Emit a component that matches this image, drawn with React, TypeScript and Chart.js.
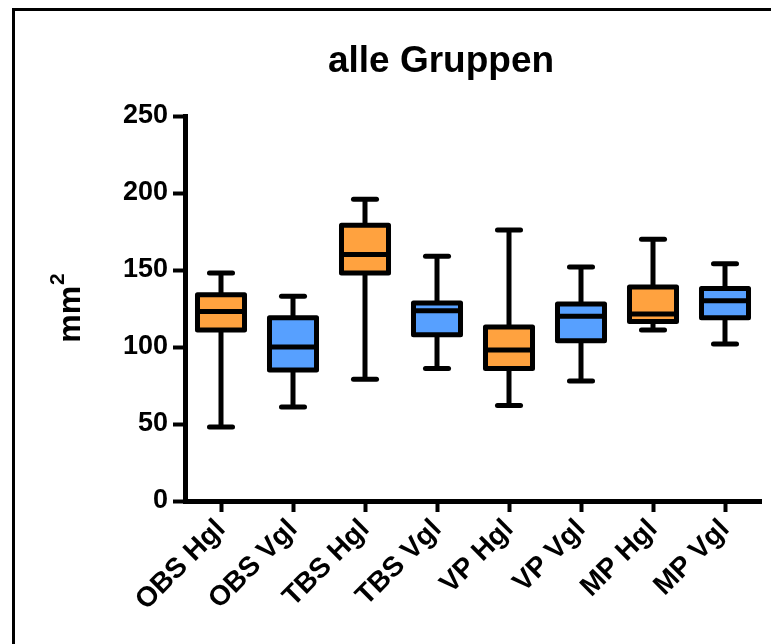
import React, { useEffect, useRef } from "react";
import { Chart, registerables } from "chart.js";

Chart.register(...registerables);

// ---- data ----
const categories = ["OBS Hgl", "OBS Vgl", "TBS Hgl", "TBS Vgl", "VP Hgl", "VP Vgl", "MP Hgl", "MP Vgl"];
const minValues = [48, 61, 79, 86, 62, 78, 111, 102];
const q1Values = [111, 85, 148, 108, 86, 104, 116.5, 119];
const medianValues = [123, 100, 160, 123.5, 98, 120, 121.5, 130];
const q3Values = [134, 119, 179, 128.5, 113, 128, 139, 138];
const maxValues = [148, 133, 196, 159, 176, 152, 170, 154];
const boxColors = ["#FFA23F", "#57A0FF", "#FFA23F", "#57A0FF", "#FFA23F", "#57A0FF", "#FFA23F", "#57A0FF"];
const yMin = 0;
const yMax = 250;
const yStep = 50;
const chartTitle = "alle Gruppen";
const yAxisTitleBase = "mm";
const yAxisTitleSup = "2";

const FONT = "'Liberation Sans', Arial, Helvetica, sans-serif";

const boxWhiskerPlugin = {
  id: "boxWhiskerPlugin",
  afterDatasetsDraw(chart: any) {
    const meta = chart.getDatasetMeta(0);
    const ys = chart.scales.y;
    const ctx = chart.ctx as CanvasRenderingContext2D;
    ctx.save();
    ctx.strokeStyle = "#000";
    ctx.lineWidth = 5;
    ctx.lineJoin = "round";
    const line = (x1: number, y1: number, x2: number, y2: number, cap: CanvasLineCap) => {
      ctx.lineCap = cap;
      ctx.beginPath();
      ctx.moveTo(x1, y1);
      ctx.lineTo(x2, y2);
      ctx.stroke();
    };
    meta.data.forEach((bar: any, i: number) => {
      const x = bar.x;
      const half = bar.width / 2;
      const capHalf = bar.width * 0.245;
      const pMin = ys.getPixelForValue(minValues[i]);
      const pQ1 = ys.getPixelForValue(q1Values[i]);
      const pMed = ys.getPixelForValue(medianValues[i]);
      const pQ3 = ys.getPixelForValue(q3Values[i]);
      const pMax = ys.getPixelForValue(maxValues[i]);
      line(x, pQ3, x, pMax, "butt");
      line(x, pQ1, x, pMin, "butt");
      line(x - capHalf, pMax, x + capHalf, pMax, "round");
      line(x - capHalf, pMin, x + capHalf, pMin, "round");
      ctx.beginPath();
      ctx.rect(x - half, pQ3, 2 * half, pQ1 - pQ3);
      ctx.stroke();
      line(x - half, pMed, x + half, pMed, "butt");
    });
    ctx.restore();
  },
};

const textPlugin = {
  id: "textPlugin",
  afterDraw(chart: any) {
    const ctx = chart.ctx as CanvasRenderingContext2D;
    const area = chart.chartArea;
    ctx.save();
    ctx.fillStyle = "#000";
    // chart title
    ctx.font = `bold 37px ${FONT}`;
    ctx.textAlign = "center";
    ctx.textBaseline = "middle";
    ctx.fillText(chartTitle, 441, 62);
    // y-axis title "mm" with superscript 2, rotated
    const cy = (area.top + area.bottom) / 2;
    ctx.translate(80, cy);
    ctx.rotate(-Math.PI / 2);
    ctx.textBaseline = "alphabetic";
    ctx.textAlign = "left";
    ctx.font = `bold 32px ${FONT}`;
    const wBase = ctx.measureText(yAxisTitleBase).width;
    ctx.font = `bold 21px ${FONT}`;
    const wSup = ctx.measureText(yAxisTitleSup).width;
    const start = -(wBase + wSup) / 2;
    ctx.font = `bold 32px ${FONT}`;
    ctx.fillText(yAxisTitleBase, start, 0);
    ctx.font = `bold 21px ${FONT}`;
    ctx.fillText(yAxisTitleSup, start + wBase + 1, -16);
    ctx.restore();
  },
};

export default function App() {
  const canvasRef = useRef<HTMLCanvasElement | null>(null);

  useEffect(() => {
    if (!canvasRef.current) return;
    const chart = new Chart(canvasRef.current, {
      type: "bar",
      data: {
        labels: categories,
        datasets: [
          {
            label: "Box",
            data: categories.map((_, i) => [q1Values[i], q3Values[i]]) as any,
            backgroundColor: boxColors,
            borderWidth: 0,
            barPercentage: 0.653,
            categoryPercentage: 1,
          },
        ],
      },
      options: {
        animation: false,
        responsive: false,
        maintainAspectRatio: false,
        devicePixelRatio: 1,
        layout: { padding: { left: 0, top: 116, right: 10, bottom: 0 } },
        plugins: {
          legend: { display: false },
          title: { display: false },
          tooltip: { enabled: false },
        },
        scales: {
          x: {
            offset: true,
            grid: {
              display: true,
              offset: false,
              drawOnChartArea: false,
              drawTicks: true,
              tickLength: 11,
              tickWidth: 4,
              tickColor: "#000",
            },
            border: { display: true, width: 5, color: "#000" },
            ticks: {
              autoSkip: false,
              minRotation: 45,
              maxRotation: 45,
              padding: 1,
              color: "#000",
              font: { family: FONT, size: 28, weight: "bold" },
            },
            afterFit: (scale: any) => {
              scale.height = 143;
            },
          },
          y: {
            min: yMin,
            max: yMax,
            grid: {
              display: true,
              drawOnChartArea: false,
              drawTicks: true,
              tickLength: 12,
              tickWidth: 4,
              tickColor: "#000",
            },
            border: { display: true, width: 5, color: "#000" },
            ticks: {
              stepSize: yStep,
              padding: 5,
              color: "#000",
              font: { family: FONT, size: 27, weight: "bold" },
            },
            title: { display: false },
            afterFit: (scale: any) => {
              scale.width = 185;
            },
          },
        },
      },
      plugins: [boxWhiskerPlugin, textPlugin],
    });
    return () => chart.destroy();
  }, []);

  return (
    <div style={{ position: "absolute", left: 0, top: 0, width: 771, height: 644, background: "#fff", overflow: "hidden" }}>
      <div
        style={{
          position: "absolute",
          left: 12,
          top: 8,
          right: 0,
          bottom: 0,
          borderTop: "3px solid #000",
          borderLeft: "3px solid #000",
        }}
      />
      <canvas ref={canvasRef} width={771} height={644} style={{ position: "absolute", left: 0, top: 0, width: 771, height: 644 }} />
    </div>
  );
}
